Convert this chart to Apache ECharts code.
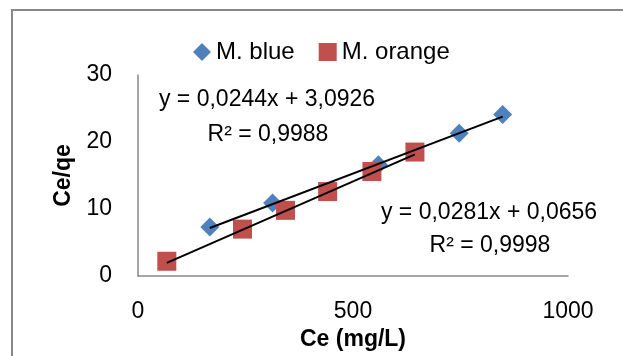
<!DOCTYPE html>
<html>
<head>
<meta charset="utf-8">
<script src="https://cdn.jsdelivr.net/npm/echarts@6/dist/echarts.min.js"></script>
<style>
html,body{margin:0;padding:0;background:#fff;}
#main{width:623px;height:356px;}
</style>
</head>
<body>
<div id="main"></div>
<script>
// Data
var blueX = [167, 313, 559, 747, 848];
var blueY = [7.3, 10.9, 16.6, 21.3, 24.1];
var orangeX = [67, 243, 343, 441, 544, 644];
var orangeY = [2.2, 7.0, 9.8, 12.6, 15.6, 18.5];
var seriesNames = ['M. blue', 'M. orange'];
var slopes = [0.0244, 0.0281];
var intercepts = [3.0926, 0.0656];
var eqTexts = ['y = 0,0244x + 3,0926', 'y = 0,0281x + 0,0656'];
var r2Texts = ['R² = 0,9988', 'R² = 0,9998'];
var xTicks = [0, 500, 1000];
var yTicks = [0, 10, 20, 30];

function pairs(xs, ys) { return xs.map(function (x, i) { return [x, ys[i]]; }); }
function trend(xs, k) {
  var mn = Math.min.apply(null, xs), mx = Math.max.apply(null, xs);
  return [[mn, slopes[k] * mn + intercepts[k]], [mx, slopes[k] * mx + intercepts[k]]];
}

var FONT = 'Liberation Sans';
var EQFONT = '23px "Liberation Sans"';
var chart = echarts.init(document.getElementById('main'), null, {renderer: 'canvas'});
chart.setOption({
  animation: false,
  backgroundColor: '#fff',
  textStyle: {fontFamily: FONT},
  grid: {left: 138, right: 55, top: 75, bottom: 80},
  legend: {
    top: 35, left: 188,
    itemWidth: 18, itemHeight: 18, itemGap: 24,
    textStyle: {fontFamily: FONT, fontSize: 24, color: '#000'},
    data: [{name: seriesNames[0], icon: 'diamond'}, {name: seriesNames[1], icon: 'rect'}]
  },
  xAxis: {
    type: 'value', min: xTicks[0], max: xTicks[xTicks.length - 1], interval: 500,
    name: 'Ce (mg/L)', nameLocation: 'middle', nameGap: 50,
    nameTextStyle: {fontFamily: FONT, fontSize: 23, fontWeight: 'bold', color: '#000'},
    axisLine: {show: true, lineStyle: {color: '#888', width: 1.5}},
    axisTick: {show: false}, splitLine: {show: false},
    axisLabel: {margin: 24, fontSize: 23, color: '#000', fontFamily: FONT,
      formatter: function (v) { return String(v); }}
  },
  yAxis: {
    type: 'value', min: yTicks[0], max: yTicks[yTicks.length - 1], interval: 10,
    name: 'Ce/qe', nameLocation: 'middle', nameGap: 62, nameRotate: 90,
    nameTextStyle: {fontFamily: FONT, fontSize: 23, fontWeight: 'bold', color: '#000'},
    axisLine: {show: true, lineStyle: {color: '#888', width: 1.5}},
    axisTick: {show: false}, splitLine: {show: false},
    axisLabel: {margin: 26, fontSize: 23, color: '#000', fontFamily: FONT}
  },
  series: [
    {name: seriesNames[0], type: 'scatter', symbol: 'diamond', symbolSize: 19,
     itemStyle: {color: '#4F81BD', opacity: 1}, data: pairs(blueX, blueY), z: 2},
    {name: seriesNames[1], type: 'scatter', symbol: 'rect', symbolSize: 19,
     itemStyle: {color: '#C0504D', opacity: 1}, data: pairs(orangeX, orangeY), z: 2},
    {type: 'line', data: trend(blueX, 0), symbol: 'none', lineStyle: {color: '#000', width: 2}, z: 3, silent: true},
    {type: 'line', data: trend(orangeX, 1), symbol: 'none', lineStyle: {color: '#000', width: 2}, z: 3, silent: true}
  ],
  graphic: [
    {type: 'rect', shape: {x: 12, y: 10, width: 700, height: 500}, style: {fill: 'none', stroke: '#888', lineWidth: 2}, z: 10},
    {type: 'text', x: 267, y: 100, style: {text: eqTexts[0], font: EQFONT, fill: '#000', textAlign: 'center', textVerticalAlign: 'middle'}},
    {type: 'text', x: 268, y: 135, style: {text: r2Texts[0], font: EQFONT, fill: '#000', textAlign: 'center', textVerticalAlign: 'middle'}},
    {type: 'text', x: 489, y: 213, style: {text: eqTexts[1], font: EQFONT, fill: '#000', textAlign: 'center', textVerticalAlign: 'middle'}},
    {type: 'text', x: 490, y: 246, style: {text: r2Texts[1], font: EQFONT, fill: '#000', textAlign: 'center', textVerticalAlign: 'middle'}}
  ]
});
</script>
</body>
</html>
